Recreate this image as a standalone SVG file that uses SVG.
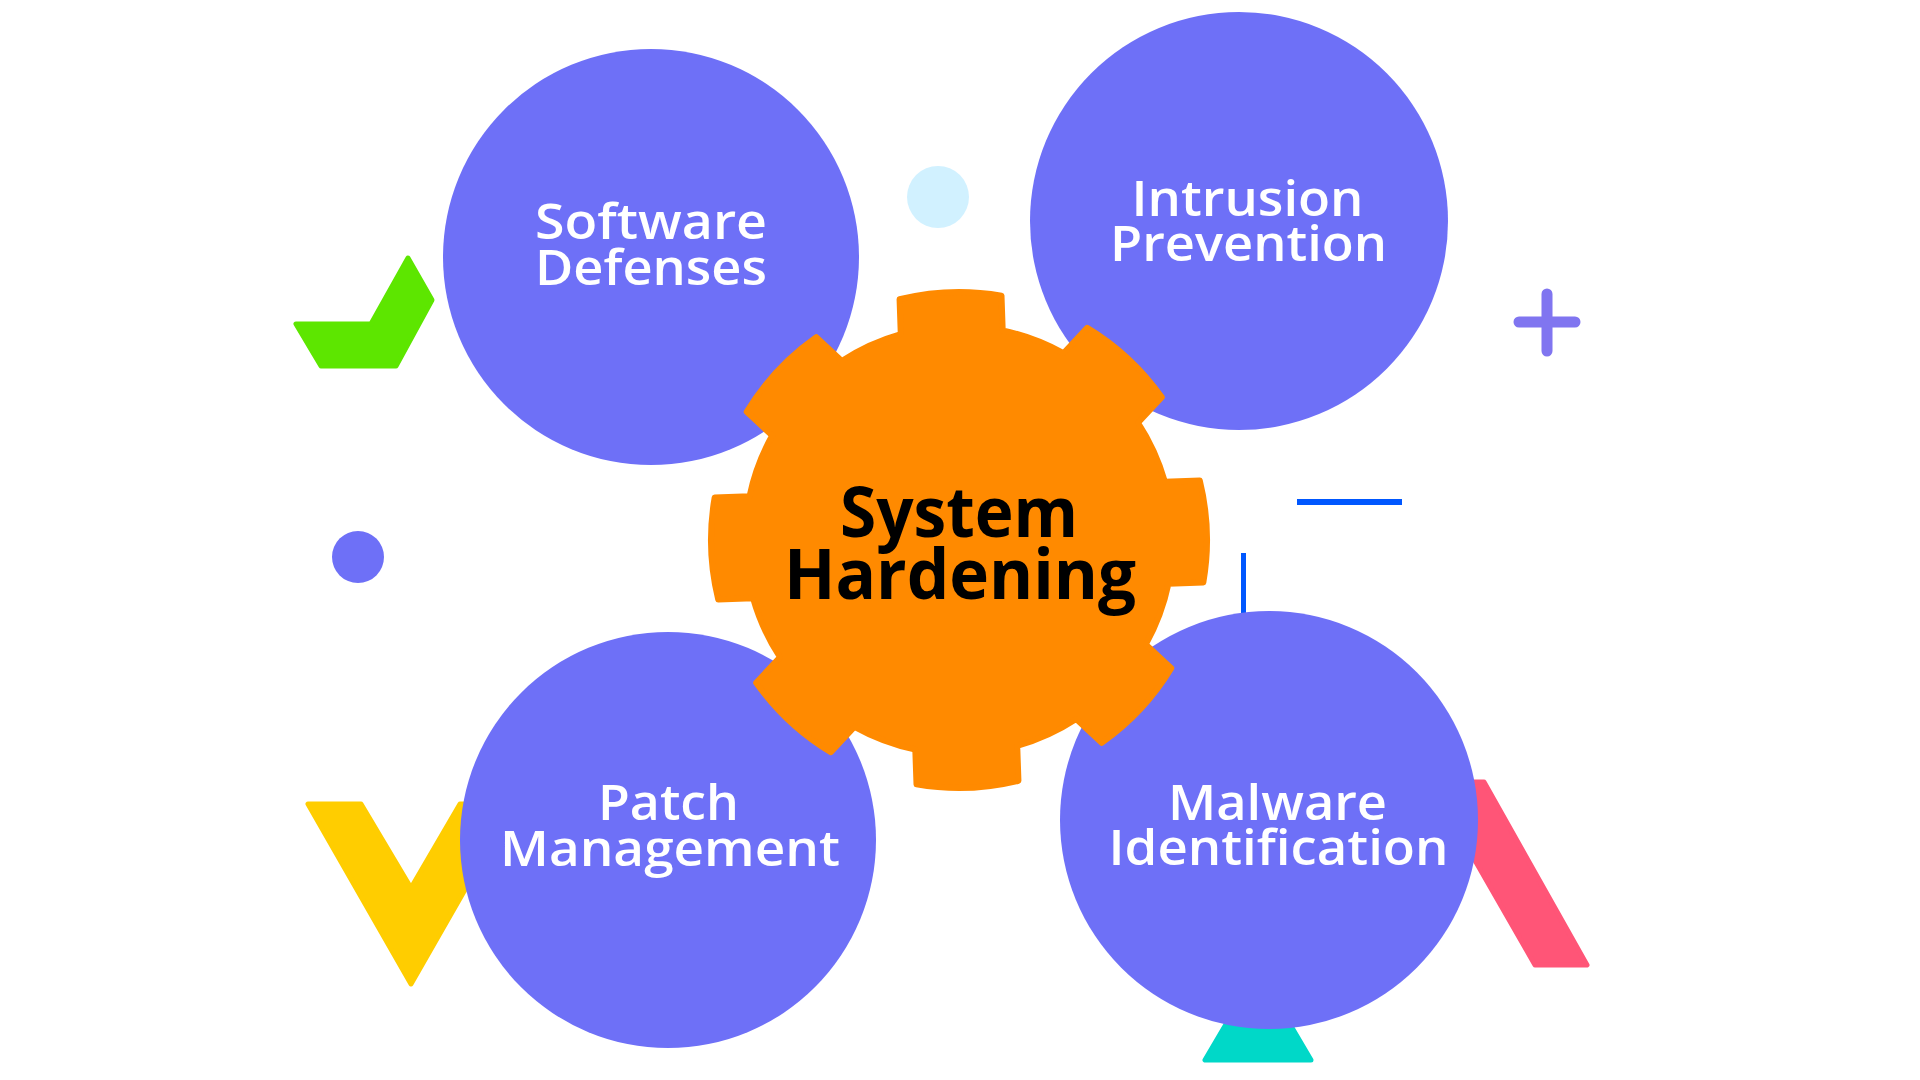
<svg xmlns="http://www.w3.org/2000/svg" width="1920" height="1080" viewBox="0 0 1920 1080">
<style>
.bg{fill:#ffffff}
.node{fill:#6E70F7}
.deco{stroke-linejoin:round;stroke-width:5}
.lbl{font-family:"Open Sans","Noto Sans",sans-serif;font-weight:600;font-size:48px;fill:#ffffff;text-anchor:middle}
.hub{font-family:"Open Sans","Noto Sans",sans-serif;font-weight:700;font-size:69px;fill:#000000;text-anchor:middle}
</style>
<rect class="bg" x="0" y="0" width="1920" height="1080"/>
<g id="decorations">
<polygon class="deco" fill="#5DE600" stroke="#5DE600" points="408,258 432,300 396,366 321,366 296,324 371,324"/>
<polygon class="deco" fill="#FFCD00" stroke="#FFCD00" points="308,804 361,804 411,888 460,804 514,804 411,984"/>
<polygon class="deco" fill="#FF5577" stroke="#FF5577" points="1430,782 1484,782 1587,965 1535,965"/>
<polygon class="deco" fill="#00D8C8" stroke="#00D8C8" points="1205,1060 1311,1060 1258,970"/>
<circle cx="358" cy="557" r="26" fill="#6E70F7"/>
<circle cx="938" cy="197" r="31" fill="#D1F1FF"/>
<path d="M1547,294 V351 M1519,322 H1575" stroke="#8075F0" stroke-width="11" stroke-linecap="round" fill="none"/>
<rect x="1297" y="499" width="105" height="6" fill="#0057FF"/>
<rect x="1241" y="553" width="5" height="62" fill="#0057FF"/>
</g>
<g id="connectors"></g>
<g id="node-software">
<circle class="node" cx="651" cy="257" r="208"/>
</g>
<g id="node-intrusion">
<circle class="node" cx="1239" cy="221" r="209"/>
</g>
<g id="node-patch">
<circle class="node" cx="668" cy="840" r="208"/>
</g>
<g id="node-malware">
<circle class="node" cx="1269" cy="820" r="209"/>
</g>
<g id="node-hub">
<path transform="translate(959,540) rotate(-2)" fill="#FF8A00" stroke="#FF8A00" stroke-width="6" stroke-linejoin="round" d="M -51,-207.83 L -51,-242.70 A 248 248 0 0 1 51,-242.70 L 51,-207.83 A 214 214 0 0 1 110.90,-183.02 L 135.55,-207.67 A 248 248 0 0 1 207.67,-135.55 L 183.02,-110.90 A 214 214 0 0 1 207.83,-51 L 242.70,-51 A 248 248 0 0 1 242.70,51 L 207.83,51 A 214 214 0 0 1 183.02,110.90 L 207.67,135.55 A 248 248 0 0 1 135.55,207.67 L 110.90,183.02 A 214 214 0 0 1 51,207.83 L 51,242.70 A 248 248 0 0 1 -51,242.70 L -51,207.83 A 214 214 0 0 1 -110.90,183.02 L -135.55,207.67 A 248 248 0 0 1 -207.67,135.55 L -183.02,110.90 A 214 214 0 0 1 -207.83,51 L -242.70,51 A 248 248 0 0 1 -242.70,-51 L -207.83,-51 A 214 214 0 0 1 -183.02,-110.90 L -207.67,-135.55 A 248 248 0 0 1 -135.55,-207.67 L -110.90,-183.02 A 214 214 0 0 1 -51,-207.83 Z"/>
<text class="hub" x="959" y="537" textLength="238" lengthAdjust="spacingAndGlyphs">System</text>
<text class="hub" x="960" y="599" textLength="352" lengthAdjust="spacingAndGlyphs">Hardening</text>
</g>
<g id="labels">
<text class="lbl" x="651" y="239" textLength="232" lengthAdjust="spacingAndGlyphs">Software</text>
<text class="lbl" x="651" y="285" textLength="232" lengthAdjust="spacingAndGlyphs">Defenses</text>
<text class="lbl" x="1247.5" y="216" textLength="232" lengthAdjust="spacingAndGlyphs">Intrusion</text>
<text class="lbl" x="1248.5" y="261" textLength="277" lengthAdjust="spacingAndGlyphs">Prevention</text>
<text class="lbl" x="668.5" y="820" textLength="141" lengthAdjust="spacingAndGlyphs">Patch</text>
<text class="lbl" x="670" y="866" textLength="340" lengthAdjust="spacingAndGlyphs">Management</text>
<text class="lbl" x="1277.5" y="820" textLength="219" lengthAdjust="spacingAndGlyphs">Malware</text>
<text class="lbl" x="1278.5" y="865" textLength="340" lengthAdjust="spacingAndGlyphs">Identification</text>
</g>
</svg>
